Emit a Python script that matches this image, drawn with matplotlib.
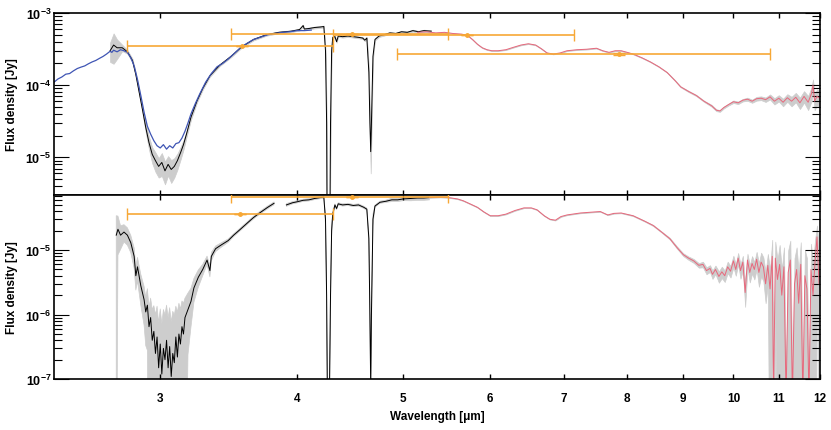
import numpy as np
import matplotlib
matplotlib.use("Agg")
import matplotlib.pyplot as plt
from matplotlib.ticker import FixedLocator, FuncFormatter, LogLocator, NullFormatter, NullLocator

plt.rcParams['font.family'] = ['Liberation Sans', 'DejaVu Sans']
plt.rcParams['font.weight'] = 'bold'
plt.rcParams['mathtext.fontset'] = 'custom'
plt.rcParams['mathtext.bf'] = 'Liberation Sans:bold'
plt.rcParams['mathtext.rm'] = 'Liberation Sans:bold'

# ---- data: (wavelength [um], flux [Jy], relative error) ----
blue_top = [
    (2.40, 1.10e-4), (2.42, 1.22e-4), (2.44, 1.30e-4), (2.46, 1.42e-4), (2.48, 1.45e-4),
    (2.50, 1.58e-4), (2.52, 1.70e-4), (2.54, 1.78e-4), (2.56, 1.85e-4), (2.58, 1.98e-4),
    (2.60, 2.10e-4), (2.62, 2.20e-4), (2.64, 2.35e-4), (2.66, 2.50e-4), (2.68, 2.70e-4),
    (2.70, 2.95e-4), (2.71, 2.85e-4), (2.72, 3.05e-4), (2.74, 2.90e-4), (2.76, 3.10e-4),
    (2.78, 3.00e-4), (2.80, 2.85e-4), (2.82, 2.40e-4), (2.84, 1.85e-4), (2.86, 1.20e-4),
    (2.88, 7.2e-5), (2.90, 4.2e-5), (2.92, 2.7e-5), (2.94, 2.1e-5), (2.96, 1.7e-5),
    (2.98, 1.45e-5), (3.00, 1.35e-5), (3.02, 1.50e-5), (3.04, 1.30e-5), (3.06, 1.45e-5),
    (3.08, 1.35e-5), (3.10, 1.55e-5), (3.12, 1.60e-5), (3.14, 1.85e-5), (3.16, 2.30e-5),
    (3.18, 3.00e-5), (3.20, 4.00e-5), (3.23, 5.6e-5), (3.26, 7.6e-5), (3.30, 1.10e-4),
    (3.34, 1.45e-4), (3.38, 1.80e-4), (3.42, 2.00e-4), (3.46, 2.30e-4), (3.50, 2.70e-4),
    (3.55, 3.30e-4), (3.60, 3.80e-4), (3.65, 4.30e-4), (3.70, 4.60e-4), (3.76, 5.00e-4),
    (3.82, 5.20e-4), (3.88, 5.40e-4), (3.94, 5.50e-4), (4.00, 5.70e-4), (4.06, 5.70e-4),
    (4.12, 5.80e-4),
]

black_top = [
    (2.70, 3.0e-4, 0.3), (2.72, 3.6e-4, 0.45), (2.74, 3.3e-4, 0.3), (2.77, 3.3e-4, 0.1),
    (2.80, 2.9e-4, 0.06), (2.83, 2.2e-4, 0.06), (2.85, 1.4e-4, 0.06), (2.87, 8.0e-5, 0.08),
    (2.89, 4.6e-5, 0.1), (2.91, 2.6e-5, 0.15), (2.93, 1.6e-5, 0.2), (2.95, 1.1e-5, 0.25),
    (2.97, 9.0e-6, 0.3), (2.99, 7.5e-6, 0.3), (3.01, 8.5e-6, 0.35), (3.03, 6.5e-6, 0.35),
    (3.05, 8.0e-6, 0.3), (3.07, 6.8e-6, 0.35), (3.09, 7.5e-6, 0.3), (3.11, 9.0e-6, 0.25),
    (3.13, 1.15e-5, 0.2), (3.15, 1.5e-5, 0.15), (3.17, 2.1e-5, 0.1), (3.20, 3.6e-5, 0.08),
    (3.24, 6.0e-5, 0.05), (3.28, 9.0e-5, 0.04), (3.33, 1.35e-4, 0.03), (3.40, 1.9e-4, 0.03),
    (3.48, 2.5e-4, 0.03), (3.56, 3.4e-4, 0.03), (3.65, 4.3e-4, 0.03), (3.75, 5.0e-4, 0.03),
    (3.85, 5.4e-4, 0.03), (3.95, 5.6e-4, 0.03), (4.02, 5.9e-4, 0.03), (4.05, 6.7e-4, 0.03),
    (4.06, 6.0e-4, 0.03), (4.10, 6.1e-4, 0.03), (4.15, 6.3e-4, 0.03), (4.20, 6.4e-4, 0.03),
    (4.23, 6.5e-4, 0.03), (4.245, 3.0e-4, 0.1), (4.255, 3.0e-5, 0.5), (4.262, 1e-7, 0.5),
    (4.28, 1e-7, 0.5), (4.29, 3.0e-5, 0.5), (4.30, 3.0e-4, 0.1), (4.31, 4.6e-4, 0.03),
    (4.33, 4.7e-4, 0.03), (4.345, 4.0e-4, 0.03), (4.36, 4.8e-4, 0.03), (4.40, 4.7e-4, 0.03),
    (4.45, 4.8e-4, 0.03), (4.50, 4.7e-4, 0.03), (4.55, 4.6e-4, 0.03), (4.59, 4.5e-4, 0.03),
    (4.61, 4.2e-4, 0.03), (4.63, 4.5e-4, 0.03), (4.65, 1.5e-4, 0.2), (4.66, 3.0e-5, 0.4),
    (4.668, 1.2e-5, 0.5), (4.675, 3.0e-5, 0.4), (4.69, 2.5e-4, 0.1), (4.71, 4.3e-4, 0.03),
    (4.75, 4.8e-4, 0.03), (4.80, 5.0e-4, 0.03), (4.86, 5.3e-4, 0.03), (4.92, 5.2e-4, 0.03),
    (4.98, 5.5e-4, 0.03), (5.04, 5.4e-4, 0.03), (5.10, 5.7e-4, 0.03), (5.16, 5.5e-4, 0.03),
    (5.22, 5.7e-4, 0.03), (5.30, 5.6e-4, 0.03),
]

red_top = [
    (5.15, 5.4e-4, 0.01), (5.25, 5.5e-4, 0.01), (5.35, 5.3e-4, 0.01), (5.45, 5.4e-4, 0.01),
    (5.55, 5.2e-4, 0.01), (5.65, 5.1e-4, 0.01), (5.72, 4.9e-4, 0.01), (5.78, 4.3e-4, 0.01),
    (5.84, 3.7e-4, 0.01), (5.90, 3.3e-4, 0.01), (5.96, 3.1e-4, 0.01), (6.02, 3.0e-4, 0.01),
    (6.10, 3.0e-4, 0.01), (6.20, 3.1e-4, 0.01), (6.30, 3.35e-4, 0.01), (6.40, 3.6e-4, 0.01),
    (6.50, 3.75e-4, 0.01), (6.60, 3.6e-4, 0.01), (6.68, 3.2e-4, 0.01), (6.76, 2.8e-4, 0.01),
    (6.85, 2.7e-4, 0.01), (6.95, 2.8e-4, 0.01), (7.05, 3.0e-4, 0.01), (7.20, 3.1e-4, 0.01),
    (7.35, 3.15e-4, 0.01), (7.50, 3.25e-4, 0.01), (7.60, 3.0e-4, 0.01), (7.70, 2.85e-4, 0.01),
    (7.80, 3.0e-4, 0.01), (7.90, 3.0e-4, 0.01), (8.00, 2.85e-4, 0.01), (8.10, 2.7e-4, 0.01),
    (8.25, 2.4e-4, 0.01), (8.40, 2.1e-4, 0.01), (8.55, 1.8e-4, 0.01), (8.70, 1.5e-4, 0.01),
    (8.85, 1.15e-4, 0.015), (8.95, 9.5e-5, 0.015), (9.10, 8.2e-5, 0.02), (9.25, 7.2e-5, 0.02),
    (9.40, 6.0e-5, 0.02), (9.55, 5.2e-5, 0.03), (9.65, 4.5e-5, 0.03), (9.72, 4.4e-5, 0.03),
    (9.80, 4.9e-5, 0.03), (9.90, 5.4e-5, 0.03), (10.0, 5.9e-5, 0.04), (10.1, 5.7e-5, 0.04),
    (10.2, 6.2e-5, 0.04), (10.3, 6.4e-5, 0.05), (10.4, 6.0e-5, 0.05), (10.5, 6.5e-5, 0.06),
    (10.6, 6.6e-5, 0.06), (10.7, 6.3e-5, 0.07), (10.8, 6.9e-5, 0.08), (10.9, 6.0e-5, 0.1),
    (11.0, 6.6e-5, 0.1), (11.1, 5.8e-5, 0.12), (11.2, 6.7e-5, 0.12), (11.3, 6.0e-5, 0.15),
    (11.4, 6.8e-5, 0.15), (11.5, 5.7e-5, 0.18), (11.6, 7.0e-5, 0.18), (11.7, 5.8e-5, 0.22),
    (11.78, 7.6e-5, 0.22), (11.82, 1.0e-4, 0.2), (11.86, 6.0e-5, 0.25), (11.92, 7.0e-5, 0.25),
    (12.0, 6.5e-5, 0.25),
]

nan3 = (np.nan, np.nan, np.nan)
black_bot = [
    (2.735, 1.7e-5, 1.0), (2.745, 2.1e-5, 0.6), (2.76, 1.7e-5, 0.4), (2.78, 1.9e-5, 0.3),
    (2.80, 1.7e-5, 0.3), (2.82, 1.3e-5, 0.3), (2.84, 8.0e-6, 0.35), (2.85, 4.0e-6, 0.4),
    (2.86, 5.5e-6, 0.4), (2.88, 2.8e-6, 0.5), (2.90, 1.7e-6, 0.6), (2.91, 1.1e-6, 0.7),
    (2.92, 1.4e-6, 0.8), (2.93, 6.5e-7, 1.0), (2.94, 9.0e-7, 1.0), (2.95, 4.0e-7, 2.0),
    (2.96, 5.5e-7, 1.5), (2.97, 2.5e-7, 3.0), (2.98, 4.5e-7, 2.0), (2.99, 1.5e-7, 4.0),
    (3.00, 3.5e-7, 2.5), (3.01, 1.2e-7, 5.0), (3.02, 3.0e-7, 3.0), (3.03, 2.0e-7, 4.0),
    (3.04, 4.0e-7, 2.5), (3.05, 1.5e-7, 5.0), (3.06, 3.2e-7, 3.0), (3.07, 1.1e-7, 6.0),
    (3.08, 2.5e-7, 3.5), (3.09, 1.8e-7, 4.5), (3.10, 4.5e-7, 2.0), (3.11, 2.2e-7, 4.0),
    (3.12, 5.0e-7, 2.0), (3.13, 3.5e-7, 2.5), (3.14, 6.5e-7, 1.5), (3.15, 5.0e-7, 2.0),
    (3.16, 9.0e-7, 1.0), (3.18, 1.2e-6, 0.8), (3.20, 1.6e-6, 0.6), (3.22, 2.6e-6, 0.4),
    (3.25, 3.8e-6, 0.3), (3.28, 5.0e-6, 0.2), (3.31, 7.0e-6, 0.15), (3.33, 4.8e-6, 0.2),
    (3.34, 8.0e-6, 0.15), (3.37, 1.05e-5, 0.1), (3.41, 1.2e-5, 0.08), (3.46, 1.4e-5, 0.06),
    (3.50, 1.7e-5, 0.05), (3.55, 2.1e-5, 0.05), (3.60, 2.6e-5, 0.05), (3.65, 3.2e-5, 0.05),
    (3.70, 3.8e-5, 0.05), (3.76, 4.6e-5, 0.05), (3.81, 5.3e-5, 0.05), nan3,
    (3.91, 5.0e-5, 0.05), (3.96, 5.4e-5, 0.04), (4.00, 5.6e-5, 0.04), (4.05, 5.9e-5, 0.04),
    (4.10, 6.0e-5, 0.04), (4.15, 6.3e-5, 0.04), (4.20, 6.5e-5, 0.04), (4.23, 6.6e-5, 0.04),
    (4.245, 3.0e-5, 0.2), (4.255, 2.0e-6, 0.5), (4.262, 5e-8, 0.5), (4.28, 5e-8, 0.5),
    (4.29, 2.0e-6, 0.5), (4.30, 2.0e-5, 0.2), (4.31, 3.6e-5, 0.1), (4.33, 5.0e-5, 0.04),
    (4.345, 4.4e-5, 0.04), (4.36, 5.2e-5, 0.04), (4.40, 5.0e-5, 0.04), (4.45, 5.1e-5, 0.04),
    (4.50, 4.9e-5, 0.04), (4.55, 5.0e-5, 0.04), (4.60, 4.6e-5, 0.04), (4.63, 4.3e-5, 0.04),
    (4.65, 1.5e-5, 0.2), (4.66, 1.0e-6, 0.5), (4.668, 8e-8, 0.5), (4.675, 1.0e-6, 0.5),
    (4.69, 3.0e-5, 0.2), (4.71, 4.8e-5, 0.04), (4.76, 5.5e-5, 0.04), (4.82, 5.7e-5, 0.04),
    (4.88, 6.0e-5, 0.06), (4.94, 6.0e-5, 0.06), (5.00, 6.2e-5, 0.06), (5.08, 6.3e-5, 0.08),
    (5.15, 6.4e-5, 0.08), (5.22, 6.4e-5, 0.08), (5.28, 6.5e-5, 0.08),
]

red_bot = [
    (5.28, 6.5e-5, 0.01), (5.40, 6.6e-5, 0.01), (5.50, 6.5e-5, 0.01), (5.60, 6.2e-5, 0.01),
    (5.67, 5.8e-5, 0.01), (5.75, 5.2e-5, 0.01), (5.84, 4.6e-5, 0.01), (5.92, 3.9e-5, 0.01),
    (6.00, 3.4e-5, 0.01), (6.10, 3.4e-5, 0.01), (6.20, 3.6e-5, 0.01), (6.32, 4.1e-5, 0.01),
    (6.44, 4.5e-5, 0.01), (6.54, 4.5e-5, 0.01), (6.62, 4.2e-5, 0.01), (6.72, 3.4e-5, 0.01),
    (6.80, 3.0e-5, 0.01), (6.88, 2.9e-5, 0.01), (6.96, 3.3e-5, 0.01), (7.05, 3.5e-5, 0.01),
    (7.25, 3.75e-5, 0.01), (7.40, 3.85e-5, 0.01), (7.56, 3.95e-5, 0.01), (7.68, 3.5e-5, 0.01),
    (7.78, 3.7e-5, 0.01), (7.90, 3.75e-5, 0.01), (8.10, 3.4e-5, 0.015), (8.30, 2.8e-5, 0.015),
    (8.45, 2.4e-5, 0.02), (8.60, 1.9e-5, 0.02), (8.75, 1.5e-5, 0.03), (8.88, 1.1e-5, 0.04),
    (9.00, 8.5e-6, 0.05), (9.10, 7.5e-6, 0.06), (9.20, 6.8e-6, 0.07), (9.30, 5.8e-6, 0.08),
    (9.38, 6.0e-6, 0.1), (9.45, 4.8e-6, 0.12), (9.52, 5.2e-6, 0.12), (9.57, 4.2e-6, 0.15),
    (9.63, 5.0e-6, 0.15), (9.70, 3.9e-6, 0.2), (9.76, 4.6e-6, 0.2), (9.82, 4.0e-6, 0.2),
    (9.88, 5.5e-6, 0.2), (9.94, 4.7e-6, 0.2), (10.00, 6.8e-6, 0.2), (10.05, 5.0e-6, 0.2),
    (10.10, 7.5e-6, 0.2), (10.15, 4.8e-6, 0.25), (10.20, 6.5e-6, 0.25), (10.25, 2.2e-6, 0.4),
    (10.30, 7.0e-6, 0.25), (10.35, 4.5e-6, 0.3), (10.40, 6.2e-6, 0.3), (10.45, 5.0e-6, 0.3),
    (10.50, 7.2e-6, 0.3), (10.55, 4.5e-6, 0.4), (10.60, 6.5e-6, 0.4), (10.65, 5.5e-6, 0.4),
    (10.70, 3.0e-6, 0.5), (10.75, 5.8e-6, 0.5), (10.80, 2.5e-6, 1.0), (10.85, 8.0e-6, 0.8),
    (10.88, 5e-8, 1.0), (10.92, 7.5e-6, 0.8), (10.97, 3.5e-6, 1.0), (11.02, 6.0e-6, 1.0),
    (11.07, 2.0e-6, 1.5), (11.12, 5.5e-6, 1.0), (11.17, 5e-8, 1.0), (11.22, 4.5e-6, 1.2),
    (11.27, 7.0e-6, 1.0), (11.32, 5e-8, 1.0), (11.37, 3.0e-6, 1.5), (11.42, 5.0e-6, 1.2),
    (11.47, 1.5e-6, 2.0), (11.52, 6.0e-6, 1.2), (11.57, 5e-8, 1.0), (11.62, 4.0e-6, 1.5),
    (11.67, 2.5e-6, 2.0), (11.72, 5e-8, 1.0), (11.77, 5.0e-6, 1.5), (11.82, 2.0e-6, 2.0),
    (11.87, 6.5e-6, 1.2), (11.92, 1.6e-5, 0.5), (11.97, 3.0e-6, 2.0),
]

# photometry: centre, band low, band high, flux, flux error
phot_top_wl = [3.56, 4.49, 5.72, 7.86]
phot_top_lo = [2.80, 3.48, 4.31, 4.93]
phot_top_hi = [4.31, 5.49, 7.15, 10.8]
phot_top_fl = [3.5e-4, 5.1e-4, 4.95e-4, 2.7e-4]
phot_top_er = [0.0, 0.0, 0.0, 1.2e-5]

phot_bot_wl = [3.55, 4.49]
phot_bot_lo = [2.80, 3.48]
phot_bot_hi = [4.31, 5.49]
phot_bot_fl = [3.6e-5, 6.7e-5]
phot_bot_er = [0.0, 0.0]

xticks = [3, 4, 5, 6, 7, 8, 9, 10, 11, 12]

BLUE = '#3f55b4'
RED = '#e8687c'
ORANGE = '#f7a836'
GREY = '#cdcdcd'


def spec(ax, rows, color, band=True, lw=0.7):
    a = np.array(rows, dtype=float).T
    wl, fl = a[0], a[1]
    if band and a.shape[0] > 2:
        err = a[2]
        lo = np.clip(fl * (1 - err), 1e-10, None)
        hi = fl * (1 + err)
        ax.fill_between(wl, lo, hi, color=GREY, lw=0.5, zorder=1)
    ax.plot(wl, fl, color=color, lw=lw, zorder=2)


def phot(ax, wl, lo, hi, fl, er):
    wl = np.array(wl)
    xerr = [wl - np.array(lo), np.array(hi) - wl]
    ax.errorbar(wl, fl, xerr=xerr, yerr=er, fmt='o', ms=2.5, color=ORANGE,
                ecolor=ORANGE, elinewidth=1.2, capsize=4, capthick=1.0, zorder=4)


fig = plt.figure(figsize=(8.31, 4.31), dpi=100)
ax1 = fig.add_axes([0.065, 0.545, 0.922, 0.4225])
ax2 = fig.add_axes([0.065, 0.118, 0.922, 0.427])

spec(ax1, black_top, 'black')
spec(ax1, blue_top, BLUE, band=False, lw=0.9)
spec(ax1, red_top, RED)
phot(ax1, phot_top_wl, phot_top_lo, phot_top_hi, phot_top_fl, phot_top_er)

spec(ax2, black_bot, 'black')
spec(ax2, red_bot, RED)
phot(ax2, phot_bot_wl, phot_bot_lo, phot_bot_hi, phot_bot_fl, phot_bot_er)

ax1.set_ylim(3.0e-6, 1.0e-3)
ax2.set_ylim(1.0e-7, 7.1e-5)

fmt = FuncFormatter(lambda v, p: r'$\mathbf{10^{%d}}$' % int(round(np.log10(v))))
for ax in (ax1, ax2):
    ax.set_xscale('log')
    ax.set_yscale('log')
    ax.set_xlim(2.40, 12.0)
    ax.xaxis.set_major_locator(FixedLocator(xticks))
    ax.xaxis.set_minor_locator(NullLocator())
    ax.xaxis.set_minor_formatter(NullFormatter())
    ax.yaxis.set_major_locator(LogLocator(base=10))
    ax.yaxis.set_minor_locator(LogLocator(base=10, subs=np.arange(2, 10)))
    ax.yaxis.set_major_formatter(fmt)
    ax.yaxis.set_minor_formatter(NullFormatter())
    ax.tick_params(axis='x', which='major', direction='in', top=True, bottom=True,
                   length=3.5, width=1.0, labelsize=8.5, pad=9)
    ax.tick_params(axis='y', which='major', direction='in', left=True, right=True,
                   length=10.5, width=0.8, labelsize=9, pad=2)
    ax.tick_params(axis='y', which='minor', direction='in', left=True, right=True,
                   length=5.5, width=0.8)
    for s in ax.spines.values():
        s.set_linewidth(1.2)
    ax.set_ylabel('Flux density [Jy]', fontsize=8.5, fontweight='bold')
    ax.yaxis.set_label_coords(-0.047, 0.5)

ax1.tick_params(axis='x', labelbottom=False)
ax2.set_xticklabels([str(t) for t in xticks])
for lab in ax2.get_xticklabels():
    lab.set_fontweight('bold')
ax2.set_xlabel('Wavelength [μm]', fontsize=8.5, fontweight='bold')
ax2.xaxis.set_label_coords(0.5, -0.165)

fig.savefig('out.png', dpi=100)
